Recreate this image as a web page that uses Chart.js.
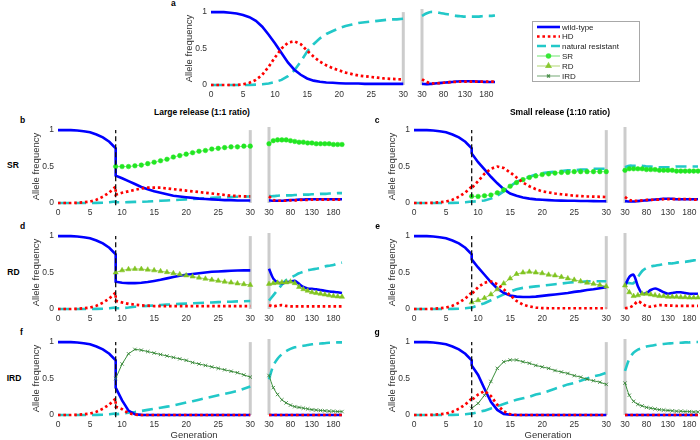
<!DOCTYPE html>
<html><head><meta charset="utf-8">
<script src="https://cdn.jsdelivr.net/npm/chart.js@4.4.1/dist/chart.umd.min.js"></script>
<style>
body{margin:0;background:#fff;}
#wrap{position:relative;width:700px;height:440px;overflow:hidden;font-family:"Liberation Sans",Arial,Helvetica,sans-serif;}
#wrap canvas{position:absolute;}
.t{position:absolute;white-space:nowrap;line-height:1;transform:translate(-50%,-50%);}
</style></head><body><div id="wrap"></div>
<script>
// ---------- data ----------
const GEN_A = [0,1,2,3,4,5,6,7,8,9,10,11,12,13,14,15,16,17,18,19,20,21,22,23,24,25,26,27,28,29,30];
const GEN_L = [0,1,2,3,4,5,6,7,8,9,9,10,11,12,13,14,15,16,17,18,19,20,21,22,23,24,25,26,27,28,29,30];
const GEN_R = [30,40,50,60,70,80,90,100,110,120,130,140,150,160,170,180,190,200];
const X_TICKS_L = [0,5,10,15,20,25,30];
const X_TICKS_R = [30,80,130,180];
const Y_TICKS = [0,0.5,1];
const RELEASE_GEN = 9;
const BREAK_GEN = 30;
const SERIES_LABELS = ['wild-type','HD','natural resistant','SR','RD','IRD'];

// panel a (no release)
const A_WT = [1,1,1,0.99,0.98,0.96,0.93,0.88,0.8,0.69,0.57,0.44,0.31,0.21,0.14,0.09,0.06,0.045,0.035,0.03,0.025,0.02,0.02,0.02,0.015,0.015,0.015,0.015,0.015,0.015,0.015];
const A_HD = [0,0,0,0,0,0.01,0.03,0.07,0.14,0.25,0.38,0.5,0.58,0.6,0.56,0.47,0.39,0.32,0.27,0.23,0.2,0.17,0.15,0.13,0.12,0.11,0.1,0.09,0.085,0.08,0.075];
const A_NR = [0,0,0,0,0,0,0,0.005,0.01,0.02,0.04,0.07,0.12,0.2,0.32,0.46,0.56,0.64,0.7,0.74,0.78,0.81,0.83,0.85,0.86,0.87,0.88,0.89,0.9,0.9,0.91];
const A_WT_R = [0.015,0.012,0.015,0.02,0.025,0.03,0.035,0.04,0.045,0.05,0.05,0.05,0.048,0.045,0.043,0.04,0.04,0.04];
const A_HD_R = [0.075,0.04,0.025,0.02,0.025,0.03,0.035,0.04,0.04,0.045,0.045,0.045,0.045,0.045,0.045,0.045,0.045,0.045];
const A_NR_R = [0.91,0.94,0.96,0.96,0.95,0.94,0.93,0.92,0.91,0.905,0.9,0.9,0.9,0.9,0.905,0.91,0.91,0.915];

// shared pre-release trajectory (generations 0..9)
const PRE_WT = [1,1,1,0.995,0.985,0.97,0.94,0.9,0.84,0.75];
const PRE_HD = [0,0,0,0.003,0.01,0.02,0.045,0.085,0.145,0.225];
const PRE_NR = [0,0,0,0,0,0,0.002,0.005,0.01,0.02];
const PRE_NONE = [null,null,null,null,null,null,null,null,null,null];

// b: SR, large release (generations 9..30 after release)
const B_WT = [0.375,0.34,0.3,0.26,0.22,0.19,0.16,0.14,0.12,0.1,0.09,0.08,0.07,0.06,0.055,0.05,0.045,0.04,0.04,0.035,0.035,0.035];
const B_HD = [0.113,0.14,0.16,0.18,0.2,0.21,0.21,0.21,0.2,0.19,0.18,0.17,0.16,0.15,0.14,0.13,0.12,0.11,0.1,0.095,0.09,0.09];
const B_NR = [0.01,0.01,0.012,0.015,0.017,0.02,0.025,0.03,0.035,0.04,0.045,0.05,0.055,0.06,0.065,0.07,0.075,0.08,0.083,0.086,0.088,0.09];
const B_SR = [0.5,0.5,0.5,0.51,0.52,0.54,0.56,0.58,0.6,0.63,0.65,0.67,0.69,0.71,0.72,0.74,0.75,0.76,0.77,0.77,0.78,0.78];
const B_WT_R = [0.035,0.03,0.03,0.03,0.035,0.04,0.04,0.045,0.045,0.05,0.05,0.05,0.05,0.05,0.05,0.05,0.05,0.05];
const B_HD_R = [0.09,0.04,0.03,0.03,0.03,0.035,0.035,0.04,0.04,0.04,0.045,0.045,0.045,0.045,0.045,0.045,0.045,0.045];
const B_NR_R = [0.09,0.09,0.095,0.1,0.1,0.1,0.105,0.105,0.11,0.11,0.115,0.115,0.12,0.12,0.125,0.125,0.13,0.13];
const B_SR_R = [0.78,0.82,0.83,0.83,0.83,0.82,0.81,0.8,0.8,0.79,0.79,0.78,0.78,0.78,0.78,0.77,0.77,0.77];

// c: SR, small release
const C_WT = [0.68,0.56,0.46,0.36,0.27,0.19,0.13,0.1,0.075,0.06,0.05,0.045,0.04,0.035,0.033,0.03,0.03,0.028,0.027,0.026,0.025,0.025];
const C_HD = [0.205,0.3,0.4,0.47,0.5,0.48,0.42,0.35,0.28,0.23,0.19,0.16,0.145,0.13,0.12,0.11,0.1,0.095,0.09,0.088,0.085,0.082];
const C_NR = [0.018,0.025,0.035,0.06,0.1,0.16,0.23,0.29,0.33,0.36,0.39,0.41,0.42,0.43,0.44,0.45,0.45,0.46,0.46,0.47,0.47,0.47];
const C_SR = [0.091,0.09,0.1,0.11,0.14,0.18,0.23,0.28,0.32,0.35,0.37,0.39,0.4,0.41,0.42,0.42,0.43,0.43,0.43,0.43,0.43,0.43];
const C_WT_R = [0.025,0.02,0.02,0.025,0.03,0.035,0.04,0.045,0.05,0.055,0.055,0.055,0.05,0.05,0.05,0.05,0.05,0.05];
const C_HD_R = [0.08,0.04,0.03,0.03,0.035,0.04,0.04,0.045,0.045,0.05,0.05,0.05,0.05,0.05,0.05,0.05,0.045,0.045];
const C_NR_R = [0.47,0.49,0.49,0.49,0.49,0.48,0.48,0.47,0.47,0.47,0.47,0.47,0.48,0.48,0.48,0.48,0.48,0.48];
const C_SR_R = [0.43,0.45,0.45,0.45,0.45,0.44,0.44,0.44,0.43,0.43,0.43,0.43,0.42,0.42,0.42,0.42,0.42,0.42];

// d: RD, large release
const D_WT = [0.375,0.36,0.355,0.355,0.36,0.37,0.385,0.4,0.42,0.44,0.455,0.47,0.48,0.49,0.5,0.51,0.515,0.52,0.525,0.528,0.53,0.53];
const D_HD = [0.113,0.09,0.07,0.06,0.05,0.045,0.04,0.04,0.04,0.04,0.04,0.04,0.04,0.04,0.04,0.04,0.04,0.04,0.04,0.04,0.04,0.04];
const D_NR = [0.01,0.012,0.02,0.03,0.037,0.043,0.05,0.055,0.06,0.065,0.07,0.074,0.078,0.082,0.086,0.09,0.094,0.098,0.1,0.104,0.107,0.11];
const D_RD = [0.5,0.53,0.545,0.55,0.548,0.54,0.53,0.518,0.505,0.49,0.475,0.46,0.445,0.43,0.415,0.4,0.387,0.374,0.362,0.35,0.34,0.33];
const D_WT_R = [0.53,0.4,0.35,0.34,0.35,0.36,0.37,0.33,0.29,0.27,0.265,0.26,0.25,0.24,0.23,0.225,0.22,0.21];
const D_HD_R = [0.05,0.035,0.045,0.05,0.04,0.035,0.035,0.035,0.035,0.035,0.035,0.035,0.035,0.035,0.035,0.035,0.035,0.035];
const D_NR_R = [0.11,0.18,0.25,0.32,0.38,0.41,0.44,0.47,0.49,0.51,0.52,0.53,0.54,0.56,0.57,0.58,0.6,0.61];
const D_RD_R = [0.33,0.34,0.345,0.35,0.35,0.36,0.34,0.29,0.26,0.24,0.22,0.21,0.2,0.19,0.18,0.17,0.165,0.16];

// e: RD, small release
const E_WT = [0.68,0.57,0.47,0.37,0.28,0.22,0.185,0.17,0.165,0.165,0.17,0.18,0.19,0.2,0.21,0.22,0.235,0.245,0.26,0.27,0.285,0.3];
const E_HD = [0.205,0.3,0.36,0.38,0.34,0.27,0.19,0.11,0.06,0.035,0.02,0.012,0.01,0.01,0.01,0.01,0.01,0.01,0.01,0.01,0.01,0.01];
const E_NR = [0.018,0.05,0.08,0.12,0.16,0.2,0.24,0.27,0.29,0.3,0.31,0.32,0.33,0.34,0.35,0.36,0.37,0.37,0.38,0.38,0.38,0.38];
const E_RD = [0.091,0.12,0.15,0.2,0.27,0.35,0.42,0.48,0.5,0.51,0.5,0.49,0.47,0.46,0.44,0.42,0.4,0.38,0.36,0.345,0.33,0.31];
const E_WT_R = [0.3,0.42,0.45,0.3,0.2,0.21,0.25,0.27,0.25,0.22,0.2,0.21,0.22,0.22,0.21,0.2,0.2,0.2];
const E_HD_R = [0.01,0.02,0.05,0.1,0.07,0.035,0.03,0.04,0.05,0.05,0.045,0.045,0.04,0.04,0.04,0.04,0.04,0.04];
const E_NR_R = [0.35,0.34,0.34,0.42,0.5,0.54,0.56,0.57,0.58,0.59,0.6,0.6,0.61,0.62,0.62,0.63,0.64,0.64];
const E_RD_R = [0.31,0.22,0.17,0.18,0.2,0.2,0.19,0.18,0.17,0.17,0.16,0.16,0.16,0.155,0.155,0.15,0.15,0.15];

// f: IRD, large release
const F_WT = [0.375,0.2,0.06,0.01,0.002,0,0,0,0,0,0,0,0,0,0,0,0,0,0,0,0,0];
const F_HD = [0.113,0.08,0.025,0.005,0,0,0,0,0,0,0,0,0,0,0,0,0,0,0,0,0,0];
const F_NR = [0.01,0.02,0.03,0.04,0.055,0.07,0.085,0.1,0.115,0.13,0.15,0.17,0.19,0.21,0.23,0.25,0.27,0.29,0.31,0.33,0.36,0.39];
const F_IRD = [0.5,0.7,0.84,0.9,0.89,0.87,0.85,0.83,0.81,0.79,0.77,0.75,0.72,0.7,0.68,0.66,0.64,0.62,0.6,0.58,0.55,0.52];
const F_WT_R = [0,0,0,0,0,0,0,0,0,0,0,0,0,0,0,0,0,0];
const F_HD_R = [0,0,0,0,0,0,0,0,0,0,0,0,0,0,0,0,0,0];
const F_NR_R = [0.47,0.65,0.74,0.8,0.84,0.87,0.89,0.9,0.91,0.92,0.93,0.935,0.94,0.945,0.95,0.95,0.955,0.955];
const F_IRD_R = [0.52,0.36,0.27,0.2,0.16,0.13,0.11,0.1,0.09,0.08,0.07,0.065,0.06,0.055,0.05,0.05,0.045,0.045];

// g: IRD, small release
const G_WT = [0.68,0.55,0.36,0.18,0.07,0.015,0.003,0,0,0,0,0,0,0,0,0,0,0,0,0,0,0];
const G_HD = [0.205,0.28,0.33,0.26,0.14,0.05,0.01,0,0,0,0,0,0,0,0,0,0,0,0,0,0,0];
const G_NR = [0.018,0.04,0.06,0.09,0.12,0.15,0.18,0.21,0.23,0.25,0.28,0.3,0.33,0.36,0.39,0.42,0.44,0.47,0.5,0.53,0.55,0.58];
const G_IRD = [0.091,0.16,0.27,0.46,0.64,0.73,0.755,0.755,0.73,0.71,0.68,0.66,0.64,0.61,0.59,0.57,0.54,0.52,0.49,0.47,0.45,0.42];
const G_WT_R = [0,0,0,0,0,0,0,0,0,0,0,0,0,0,0,0,0,0];
const G_HD_R = [0,0,0,0,0,0,0,0,0,0,0,0,0,0,0,0,0,0];
const G_NR_R = [0.58,0.74,0.82,0.86,0.88,0.9,0.91,0.92,0.93,0.935,0.94,0.945,0.95,0.95,0.955,0.955,0.96,0.96];
const G_IRD_R = [0.42,0.26,0.18,0.14,0.12,0.1,0.09,0.08,0.07,0.065,0.06,0.055,0.05,0.05,0.045,0.045,0.04,0.04];

// ---------- styles ----------
const FONT = '"Liberation Sans", Arial, Helvetica, sans-serif';
const TXT = '#333333';
const STYLE = {
  wt:  {borderColor:'#0000ff', borderWidth:2.6, pointRadius:0, order:3},
  hd:  {borderColor:'#ff0000', borderWidth:2.7, borderDash:[2.6,2.8], borderCapStyle:'butt', pointRadius:0, order:1},
  nr:  {borderColor:'#22c8c8', borderWidth:2.6, borderDash:[11,6], borderCapStyle:'butt', pointRadius:0, order:4},
  sr:  {borderColor:'rgba(40,225,40,0.55)', borderWidth:1, pointStyle:'circle', pointRadius:2.3, pointBackgroundColor:'#22e622', pointBorderColor:'#22e622', pointBorderWidth:0.5, order:2},
  rd:  {borderColor:'rgba(124,190,32,0.75)', borderWidth:1, pointStyle:'triangle', pointRadius:3, pointBackgroundColor:'#80c420', pointBorderColor:'#80c420', pointBorderWidth:0.5, order:2},
  ird: {borderColor:'#3a8f3a', borderWidth:1, pointStyle:'crossRot', pointRadius:2.4, pointBackgroundColor:'#2f7f2f', pointBorderColor:'#2f7f2f', pointBorderWidth:0.8, order:2}
};
const LEGEND_KEYS = ['wt','hd','nr','sr','rd','ird'];

// ---------- layout ----------
const WL = 194, WR = 73, H = 75.5, GAP = 17;
const wrap = document.getElementById('wrap');

function pts(xs, ys){ return xs.map((x,i)=>({x:x, y:ys[i]})); }
function ds(kind, xs, ys, tension){
  return Object.assign({data:pts(xs,ys), tension:tension, clip:6, spanGaps:false}, STYLE[kind]);
}

const vlinePlugin = {
  id:'vlines',
  _draw(chart, layer){
    const o = chart.options.plugins.vlines; if(!o) return;
    const ctx = chart.ctx, xs = chart.scales.x, ys = chart.scales.y;
    o.lines.filter(l=>l.layer===layer).forEach(l=>{
      const px = xs.getPixelForValue(l.x);
      ctx.save();
      ctx.strokeStyle = l.color; ctx.lineWidth = l.width;
      ctx.setLineDash(l.dash || []);
      ctx.beginPath();
      ctx.moveTo(px, ys.getPixelForValue(l.y0));
      ctx.lineTo(px, ys.getPixelForValue(l.y1));
      ctx.stroke();
      ctx.restore();
    });
  },
  beforeDatasetsDraw(chart){ this._draw(chart,'back'); },
  afterDatasetsDraw(chart){ this._draw(chart,'front'); }
};

function axisX(min,max,ticks){
  return {type:'linear', min:min, max:max,
    afterBuildTicks: s=>{ s.ticks = ticks.map(v=>({value:v})); },
    afterFit: s=>{ s.height = 16; },
    grid:{display:false, drawTicks:false}, border:{display:false},
    ticks:{autoSkip:false, maxRotation:0, padding:5, font:{family:FONT,size:8.5}, color:TXT, callback:v=>String(v)}
  };
}
function axisY(show){
  if(!show) return {type:'linear', display:false, min:0, max:1};
  return {type:'linear', min:0, max:1,
    afterBuildTicks: s=>{ s.ticks = Y_TICKS.map(v=>({value:v})); },
    afterFit: s=>{ s.width = 27; },
    grid:{display:false, drawTicks:false}, border:{display:false},
    ticks:{padding:4, font:{family:FONT,size:8.5}, color:TXT, callback:v=>String(v)},
    title:{display:true, text:'Allele frequency', font:{family:FONT,size:9.5}, color:TXT, padding:0}
  };
}

function makeChart(px, py, w, isLeft, datasets, lines){
  const padL = isLeft ? 27 : 10, padR = 8, padT = 6, padB = 16;
  const cw = Math.round(w + padL + padR), ch = Math.round(H + padT + padB);
  const cv = document.createElement('canvas');
  cv.width = cw; cv.height = ch;
  cv.style.left = (px - padL) + 'px'; cv.style.top = (py - padT) + 'px';
  cv.style.width = cw + 'px'; cv.style.height = ch + 'px';
  wrap.appendChild(cv);
  const ticks = isLeft ? X_TICKS_L : X_TICKS_R;
  const min = isLeft ? 0 : BREAK_GEN, max = isLeft ? BREAK_GEN : GEN_R[GEN_R.length-1];
  new Chart(cv, {
    type:'line',
    data:{datasets:datasets},
    options:{
      responsive:false, animation:false, events:[],
      layout:{padding:{top:padT, right:padR, left:isLeft?0:padL, bottom:0}},
      scales:{x:axisX(min,max,ticks), y:axisY(isLeft)},
      plugins:{legend:{display:false}, tooltip:{enabled:false}, vlines:{lines:lines}}
    },
    plugins:[vlinePlugin]
  });
}

const breakLine = {x:BREAK_GEN, y0:0, y1:1, color:'#cccccc', width:3, layer:'back'};
const releaseLine = {x:RELEASE_GEN, y0:-0.03, y1:1, color:'#111111', width:1.3, dash:[5,3], layer:'front'};

// panel a
makeChart(210.5, 9, WL, true, [
  ds('hd', GEN_A, A_HD, 0), ds('wt', GEN_A, A_WT, 0), ds('nr', GEN_A, A_NR, 0)
], [breakLine]);
makeChart(210.5 + WL + GAP, 9, WR, false, [
  ds('hd', GEN_R, A_HD_R, 0.3), ds('wt', GEN_R, A_WT_R, 0.3), ds('nr', GEN_R, A_NR_R, 0.3)
], [breakLine]);

const PANELS = [
  {x:58.3, y:126.7, eng:'sr', L:[B_WT,B_HD,B_NR,B_SR], R:[B_WT_R,B_HD_R,B_NR_R,B_SR_R]},
  {x:414,  y:126.7, eng:'sr', L:[C_WT,C_HD,C_NR,C_SR], R:[C_WT_R,C_HD_R,C_NR_R,C_SR_R]},
  {x:58.3, y:233.3, eng:'rd', L:[D_WT,D_HD,D_NR,D_RD], R:[D_WT_R,D_HD_R,D_NR_R,D_RD_R]},
  {x:414,  y:233.3, eng:'rd', L:[E_WT,E_HD,E_NR,E_RD], R:[E_WT_R,E_HD_R,E_NR_R,E_RD_R]},
  {x:58.3, y:339.3, eng:'ird', L:[F_WT,F_HD,F_NR,F_IRD], R:[F_WT_R,F_HD_R,F_NR_R,F_IRD_R]},
  {x:414,  y:339.3, eng:'ird', L:[G_WT,G_HD,G_NR,G_IRD], R:[G_WT_R,G_HD_R,G_NR_R,G_IRD_R]}
];
PANELS.forEach(p=>{
  makeChart(p.x, p.y, WL, true, [
    ds('hd', GEN_L, PRE_HD.concat(p.L[1]), 0),
    ds(p.eng, GEN_L, PRE_NONE.concat(p.L[3]), 0),
    ds('wt', GEN_L, PRE_WT.concat(p.L[0]), 0),
    ds('nr', GEN_L, PRE_NR.concat(p.L[2]), 0)
  ], [breakLine, releaseLine]);
  makeChart(p.x + WL + GAP, p.y, WR, false, [
    ds('hd', GEN_R, p.R[1], 0.3),
    ds(p.eng, GEN_R, p.R[3], 0.3),
    ds('wt', GEN_R, p.R[0], 0.3),
    ds('nr', GEN_R, p.R[2], 0.3)
  ], [breakLine]);
});

// legend
(function(){
  const cw = 112, ch = 64;
  const cv = document.createElement('canvas');
  cv.width = cw; cv.height = ch;
  cv.style.left = '530px'; cv.style.top = '19px';
  cv.style.width = cw+'px'; cv.style.height = ch+'px';
  wrap.appendChild(cv);
  const legendPlugin = {
    id:'customLegend',
    afterDraw(chart){
      const ctx = chart.ctx;
      ctx.save();
      ctx.fillStyle = '#ffffff'; ctx.fillRect(2,2,107,60);
      ctx.strokeStyle = '#a8a8a8'; ctx.lineWidth = 1; ctx.strokeRect(2.5,2.5,107,60);
      const rows = [8,17.5,27,37,47,57];
      LEGEND_KEYS.forEach((k,i)=>{
        const st = STYLE[k], y = rows[i];
        ctx.save();
        const faded = (k==='sr'||k==='rd'||k==='ird');
        ctx.strokeStyle = faded ? (k==='sr'?'#a6eea6':k==='rd'?'#cfe6a8':'#a9c9a9') : st.borderColor;
        ctx.lineWidth = faded ? 1.6 : st.borderWidth;
        ctx.setLineDash(k==='nr' ? [9,5] : (st.borderDash || []));
        ctx.lineCap = 'butt';
        ctx.beginPath(); ctx.moveTo(7,y); ctx.lineTo(30,y); ctx.stroke();
        ctx.setLineDash([]);
        if(faded){
          ctx.fillStyle = st.pointBackgroundColor; ctx.strokeStyle = st.pointBorderColor;
          ctx.globalAlpha = 0.8;
          Chart.helpers.drawPoint(ctx, {pointStyle:st.pointStyle, radius:st.pointRadius*0.85, borderWidth:st.pointBorderWidth, rotation:0}, 18.5, y);
        }
        ctx.restore();
        ctx.fillStyle = '#222'; ctx.font = '8px ' + FONT; ctx.textBaseline = 'middle';
        ctx.fillText(SERIES_LABELS[i], 32, y + 0.5);
      });
      ctx.restore();
    }
  };
  new Chart(cv, {type:'line', data:{datasets:[]},
    options:{responsive:false, animation:false, events:[],
      scales:{x:{display:false}, y:{display:false}},
      plugins:{legend:{display:false}, tooltip:{enabled:false}}},
    plugins:[legendPlugin]});
})();

// text labels
function label(x, y, str, size, bold, color){
  const d = document.createElement('div');
  d.className = 't'; d.textContent = str;
  d.style.left = x+'px'; d.style.top = y+'px';
  d.style.fontSize = size+'px'; d.style.fontWeight = bold ? 'bold' : 'normal';
  d.style.color = color || '#000';
  wrap.appendChild(d);
}
label(173.3, 3, 'a', 8.5, true);
label(22.5, 119.5, 'b', 8.5, true);
label(377, 119.5, 'c', 8.5, true);
label(22.5, 226, 'd', 8.5, true);
label(377.5, 226, 'e', 8.5, true);
label(21.5, 331.5, 'f', 8.5, true);
label(377, 332, 'g', 8.5, true);
label(202, 112, 'Large release (1:1 ratio)', 8.5, true);
label(560, 112, 'Small release (1:10 ratio)', 8.5, true);
label(13, 165, 'SR', 8.5, true);
label(13.5, 272, 'RD', 8.5, true);
label(14, 377.5, 'IRD', 8.5, true);
label(194, 435, 'Generation', 9.5, false, TXT);
label(548, 435, 'Generation', 9.5, false, TXT);
</script>
</body></html>
